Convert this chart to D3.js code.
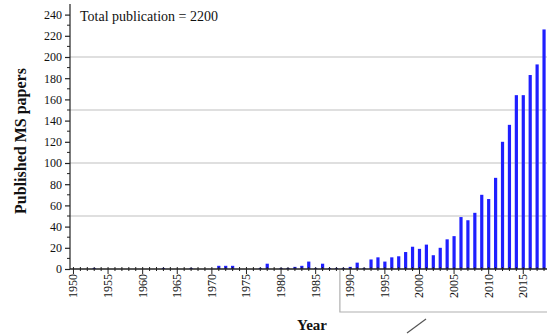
<!DOCTYPE html>
<html>
<head>
<meta charset="utf-8">
<script src="https://cdn.jsdelivr.net/npm/d3@7"></script>
<style>
  html, body { margin: 0; padding: 0; background: #fff; }
  svg { display: block; }
  text { font-family: "Liberation Serif", "Times New Roman", serif; fill: #111; }
</style>
</head>
<body>
<svg id="chart" width="547" height="335"></svg>
<script>
// ---- data ----
const years = d3.range(1950, 2019);
const papers = [
  0, 0, 0, 1, 0, 0, 0, 0, 0, 0,        // 1950-1959
  0, 0, 0, 1, 0, 0, 0, 1, 0, 0,        // 1960-1969
  0, 3, 3, 3, 0, 0, 0, 1, 5, 0,        // 1970-1979
  1, 1, 2, 3, 7, 1, 5, 1, 1, 1,        // 1980-1989
  2, 6, 1, 9, 11, 7, 11, 12, 16, 21,   // 1990-1999
  19, 23, 13, 20, 28, 31, 49, 46, 53, 70, // 2000-2009
  66, 86, 120, 136, 164, 164, 183, 193, 226 // 2010-2018
];
const yTicks = [0, 20, 40, 60, 80, 100, 120, 140, 160, 180, 200, 220, 240];
const yMinorTicks = d3.range(10, 250, 20);
const gridValues = [50, 100, 150, 200];
const xLabelYears = [1950, 1955, 1960, 1965, 1970, 1975, 1980, 1985, 1990, 1995, 2000, 2005, 2010, 2015];
const totalText = "Total publication = 2200";
const xTitle = "Year";
const yTitle = "Published MS papers";

// ---- layout ----
const svg = d3.select("#chart");
const x = d3.scaleBand().domain(years).range([70, 547.5]).paddingInner(0).paddingOuter(0);
const y = d3.scaleLinear().domain([0, 250]).range([269, 4]);
const bw = x.bandwidth();
const barW = 3.2;

// grid lines
svg.append("g").selectAll("line").data(gridValues).join("line")
  .attr("x1", 70).attr("x2", 547)
  .attr("y1", d => y(d)).attr("y2", d => y(d))
  .attr("stroke", "#d4d4d4").attr("stroke-width", 1.5);

// bars
svg.append("g").selectAll("rect").data(years.map((yr, i) => ({yr, v: papers[i]})).filter(d => d.v > 0))
  .join("rect")
  .attr("x", d => x(d.yr) + (bw - barW) / 2)
  .attr("width", barW)
  .attr("y", d => y(d.v))
  .attr("height", d => y(0) - y(d.v))
  .attr("fill", "#1f1fff");

// y axis
const yAxis = svg.append("g").attr("transform", "translate(70,0)")
  .call(d3.axisLeft(y).tickValues(yTicks).tickSize(5).tickSizeOuter(0).tickPadding(3));
yAxis.select(".domain").attr("stroke", "#222").attr("stroke-width", 1.2).attr("d", `M0,${y(250)}V${y(0)}`);
yAxis.selectAll(".tick line").attr("stroke", "#222").attr("stroke-width", 1.2);
yAxis.selectAll(".tick text").attr("font-size", 12).attr("fill", "#222")
  .style("font-family", '"Liberation Serif", "Times New Roman", serif');
svg.append("g").selectAll("line").data(yMinorTicks).join("line")
  .attr("x1", 67).attr("x2", 70)
  .attr("y1", d => y(d)).attr("y2", d => y(d))
  .attr("stroke", "#222").attr("stroke-width", 1);

// x axis
const xAxisY = y(0);
svg.append("line").attr("x1", 70).attr("x2", 547).attr("y1", xAxisY).attr("y2", xAxisY)
  .attr("stroke", "#222").attr("stroke-width", 1.3);
svg.append("g").selectAll("line").data(years).join("line")
  .attr("x1", d => x(d) + bw / 2).attr("x2", d => x(d) + bw / 2)
  .attr("y1", xAxisY - 2)
  .attr("y2", d => xLabelYears.includes(d) ? xAxisY + 5 : xAxisY + 2)
  .attr("stroke", "#222").attr("stroke-width", 1);
svg.append("g").selectAll("text").data(xLabelYears).join("text")
  .attr("transform", d => `translate(${x(d) + bw / 2 + 4},${xAxisY + 5}) rotate(-90)`)
  .attr("text-anchor", "end")
  .attr("font-size", 12)
  .attr("fill", "#222")
  .text(d => d);

// annotation bracket (light box under the recent years) and slash
svg.append("path")
  .attr("d", `M${x(1989)},${xAxisY + 1}V312H547`)
  .attr("fill", "none").attr("stroke", "#b0b0b0").attr("stroke-width", 1.2);
svg.append("line")
  .attr("x1", 407).attr("y1", 333).attr("x2", 426).attr("y2", 319)
  .attr("stroke", "#555").attr("stroke-width", 1.2);

// texts
svg.append("text").attr("x", 80).attr("y", 21).attr("font-size", 14).text(totalText);
svg.append("text").attr("x", 312).attr("y", 330).attr("text-anchor", "middle")
  .attr("font-size", 15).attr("font-weight", "bold").text(xTitle);
svg.append("text").attr("transform", "translate(26,141) rotate(-90)").attr("text-anchor", "middle")
  .attr("font-size", 16).attr("font-weight", "bold").text(yTitle);
</script>
</body>
</html>
